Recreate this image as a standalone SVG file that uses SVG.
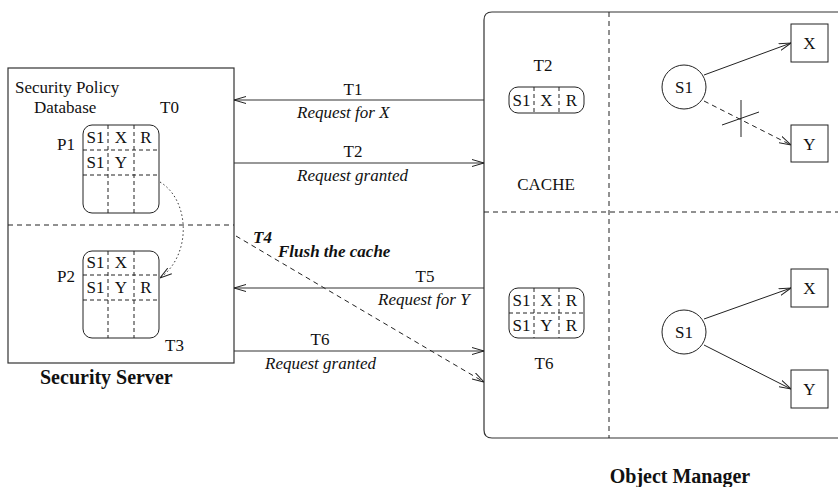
<svg xmlns="http://www.w3.org/2000/svg" width="838" height="487" viewBox="0 0 838 487">
  <defs>
    <marker id="arrow" viewBox="0 0 12 8" refX="12" refY="4" markerWidth="12" markerHeight="8" markerUnits="userSpaceOnUse" orient="auto">
      <polyline points="0,0.5 12,4 0,7.5" fill="none" stroke="#222" stroke-width="1"/>
    </marker>
    <style>
      text { font-family: "Liberation Serif", "Times New Roman", serif; font-size: 17px; fill: #111; }
      .it { font-style: italic; }
      .bi { font-style: italic; font-weight: bold; }
      .b { font-weight: bold; font-size: 20px; }
      .frame { fill: none; stroke: #333; stroke-width: 1.2; }
      .dash { fill: none; stroke: #222; stroke-width: 1; stroke-dasharray: 5 4; }
      .cell { fill: none; stroke: #222; stroke-width: 1; stroke-dasharray: 4 3; }
      .line { fill: none; stroke: #333; stroke-width: 1.2; }
      .thin { fill: none; stroke: #222; stroke-width: 1; }
      .mid { text-anchor: middle; }
    </style>
  </defs>

  <!-- Security server -->
  <g id="security-server">
    <rect class="frame" x="8" y="68" width="226" height="295"/>
    <line class="dash" x1="8" y1="225" x2="234" y2="225"/>
    <text x="15" y="93">Security Policy</text>
    <text x="34" y="113">Database</text>
    <text x="160" y="113">T0</text>
    <text x="165" y="351">T3</text>
    <text x="40" y="384" class="b">Security Server</text>
  </g>

  <!-- Policy table P1 -->
  <g id="p1">
    <text x="57" y="150">P1</text>
    <rect class="thin" x="83" y="125" width="76" height="88" rx="9"/>
    <line class="cell" x1="83" y1="150" x2="159" y2="150"/>
    <line class="cell" x1="83" y1="175" x2="159" y2="175"/>
    <line class="cell" x1="108" y1="125" x2="108" y2="213"/>
    <line class="cell" x1="134" y1="125" x2="134" y2="213"/>
    <text x="95.5" y="143" class="mid">S1</text>
    <text x="121" y="143" class="mid">X</text>
    <text x="146" y="143" class="mid">R</text>
    <text x="95.5" y="168" class="mid">S1</text>
    <text x="121" y="168" class="mid">Y</text>
  </g>

  <!-- Policy table P2 -->
  <g id="p2">
    <text x="57" y="282">P2</text>
    <rect class="thin" x="83" y="251" width="76" height="87" rx="9"/>
    <line class="cell" x1="83" y1="275" x2="159" y2="275"/>
    <line class="cell" x1="83" y1="300" x2="159" y2="300"/>
    <line class="cell" x1="108" y1="251" x2="108" y2="338"/>
    <line class="cell" x1="134" y1="251" x2="134" y2="338"/>
    <text x="95.5" y="268" class="mid">S1</text>
    <text x="121" y="268" class="mid">X</text>
    <text x="95.5" y="293" class="mid">S1</text>
    <text x="121" y="293" class="mid">Y</text>
    <text x="146" y="293" class="mid">R</text>
  </g>

  <!-- Object manager -->
  <g id="object-manager">
    <path class="frame" d="M838,12 H492 Q484,12 484,20 V430 Q484,438 492,438 H838"/>
    <line class="dash" x1="609" y1="12" x2="609" y2="438"/>
    <line class="dash" x1="484" y1="212" x2="838" y2="212"/>
    <text x="543" y="71" class="mid">T2</text>
    <text x="546" y="190" class="mid">CACHE</text>
    <text x="544" y="369" class="mid">T6</text>
    <text x="680" y="483" class="b mid">Object Manager</text>
  </g>

  <!-- Cache entry at T2 -->
  <g id="cache-t2">
    <rect class="thin" x="509" y="87" width="75" height="26" rx="9"/>
    <line class="cell" x1="534" y1="87" x2="534" y2="113"/>
    <line class="cell" x1="559" y1="87" x2="559" y2="113"/>
    <text x="521.5" y="106" class="mid">S1</text>
    <text x="546.5" y="106" class="mid">X</text>
    <text x="571.5" y="106" class="mid">R</text>
  </g>

  <!-- Cache entries at T6 -->
  <g id="cache-t6">
    <rect class="thin" x="509" y="288" width="75" height="50" rx="9"/>
    <line class="cell" x1="509" y1="313" x2="584" y2="313"/>
    <line class="cell" x1="534" y1="288" x2="534" y2="338"/>
    <line class="cell" x1="559" y1="288" x2="559" y2="338"/>
    <text x="521.5" y="306" class="mid">S1</text>
    <text x="546.5" y="306" class="mid">X</text>
    <text x="571.5" y="306" class="mid">R</text>
    <text x="521.5" y="331" class="mid">S1</text>
    <text x="546.5" y="331" class="mid">Y</text>
    <text x="571.5" y="331" class="mid">R</text>
  </g>

  <!-- Subjects and objects, upper half -->
  <g id="s1-top">
    <circle class="thin" cx="684" cy="87" r="22"/>
    <text x="684" y="93" class="mid">S1</text>
  </g>
  <g id="x-top">
    <rect class="thin" x="791" y="24" width="37" height="38"/>
    <text x="809.5" y="49" class="mid">X</text>
  </g>
  <g id="y-top">
    <rect class="thin" x="791" y="125" width="37" height="37"/>
    <text x="809.5" y="150" class="mid">Y</text>
  </g>

  <!-- Subjects and objects, lower half -->
  <g id="s1-bottom">
    <circle class="thin" cx="684" cy="332" r="22"/>
    <text x="684" y="338" class="mid">S1</text>
  </g>
  <g id="x-bottom">
    <rect class="thin" x="791" y="269" width="37" height="38"/>
    <text x="809.5" y="294" class="mid">X</text>
  </g>
  <g id="y-bottom">
    <rect class="thin" x="791" y="370" width="37" height="38"/>
    <text x="809.5" y="395" class="mid">Y</text>
  </g>

  <!-- Connectors -->
  <g id="connectors">
    <!-- policy propagation P1 -> P2 -->
    <path d="M160,182 C190,200 192,255 160,278" fill="none" stroke="#333" stroke-width="1" stroke-dasharray="1.5 2.5" marker-end="url(#arrow)"/>

    <!-- T1 request for X -->
    <line class="line" x1="484" y1="100" x2="234" y2="100" marker-end="url(#arrow)"/>
    <text x="353" y="95" class="mid">T1</text>
    <text x="297" y="118" class="it">Request for X</text>

    <!-- T2 request granted -->
    <line class="line" x1="234" y1="163" x2="484" y2="163" marker-end="url(#arrow)"/>
    <text x="353" y="157" class="mid">T2</text>
    <text x="297" y="181" class="it">Request granted</text>

    <!-- T4 flush the cache -->
    <line class="dash" x1="236" y1="236" x2="484" y2="382" stroke-dasharray="7 5" marker-end="url(#arrow)"/>
    <text x="253" y="243" class="bi">T4</text>
    <text x="278" y="257" class="bi">Flush the cache</text>

    <!-- T5 request for Y -->
    <line class="line" x1="484" y1="288" x2="234" y2="288" marker-end="url(#arrow)"/>
    <text x="425" y="282" class="mid">T5</text>
    <text x="378" y="305" class="it">Request for Y</text>

    <!-- T6 request granted -->
    <line class="line" x1="234" y1="351" x2="484" y2="351" marker-end="url(#arrow)"/>
    <text x="320" y="345" class="mid">T6</text>
    <text x="265" y="369" class="it">Request granted</text>

    <!-- access arcs, upper half -->
    <line class="thin" x1="704" y1="75" x2="791" y2="43" marker-end="url(#arrow)"/>
    <line class="thin" x1="704" y1="101" x2="791" y2="145" stroke-dasharray="5 4" marker-end="url(#arrow)"/>
    <line class="thin" x1="741" y1="100" x2="741" y2="137" stroke="#444"/>
    <line class="thin" x1="722" y1="125" x2="759" y2="112" stroke="#444"/>

    <!-- access arcs, lower half -->
    <line class="thin" x1="704" y1="319" x2="791" y2="288" marker-end="url(#arrow)"/>
    <line class="thin" x1="704" y1="345" x2="791" y2="389" marker-end="url(#arrow)"/>
  </g>
</svg>
